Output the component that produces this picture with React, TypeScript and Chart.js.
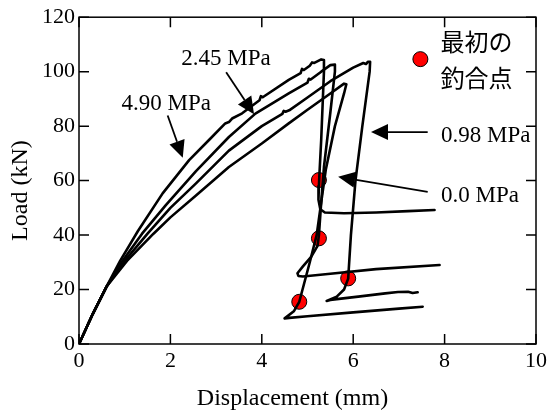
import React, { useEffect, useRef } from 'react';
import { Chart, registerables } from 'chart.js';
Chart.register(...registerables);

const xTicks = [0, 2, 4, 6, 8, 10];
const yTicks = [0, 20, 40, 60, 80, 100, 120];

const curve490 = [[0,0],[0.3,11],[0.6,21],[0.9,30.5],[1.29,41.5],[1.83,55.3],[2.41,67.5],[2.85,75],[3.2,81],[3.28,81.5],[3.35,82.8],[3.57,84.7],[3.95,89.5],[3.98,91],[4.02,90.6],[4.59,97],[4.85,99.5],[4.88,101],[4.92,100.6],[5.05,102.2],[5.1,103.4],[5.15,103.2],[5.3,104.5],[5.36,104.3],[5.36,100],[5.3,75],[5.26,62],[5.25,58],[5.24,53],[5.28,49.5],[5.38,48.3],[5.8,48],[6.5,48.3],[7.2,48.8],[7.78,49.2]];
const curve245 = [[0,0],[0.3,11],[0.6,21],[0.95,30.5],[1.38,40.5],[1.9,51],[2.56,63.5],[3.28,76],[3.86,84.6],[4.59,92],[5.0,96],[5.03,97.4],[5.07,97.1],[5.3,100],[5.5,102.4],[5.6,102.6],[5.6,100],[5.5,85],[5.36,65],[5.3,52],[5.25,40],[5.22,36],[5.08,32],[4.9,28.5],[4.78,26],[4.8,25],[4.9,24.8],[5.5,25.8],[6.5,27.5],[7.89,29]];
const curve098 = [[0,0],[0.3,11],[0.6,21],[1.0,30.5],[1.5,40.5],[2.0,50],[2.56,59],[3.28,71],[4.0,80],[4.45,84.5],[4.48,85.6],[4.52,85.3],[4.6,85.8],[5.0,90.5],[5.5,96.5],[6.0,101.5],[6.22,103.2],[6.28,102.8],[6.32,103.6],[6.37,103.6],[6.36,100],[6.2,80],[6.05,60],[5.95,40],[5.89,24],[5.8,20],[5.64,17.4],[5.42,15.8],[5.5,16.2],[6.11,17.4],[6.7,18.6],[6.98,19.1],[7.2,19.2],[7.3,18.7],[7.41,19.0]];
const curve000 = [[0,0],[0.3,11],[0.6,21],[1.05,30.5],[1.63,40.5],[2.0,46.5],[2.56,54.5],[3.28,65],[4.0,73.6],[4.59,81],[5.0,86],[5.5,92],[5.8,95.6],[5.85,95.4],[5.8,92],[5.6,80],[5.4,64],[5.3,52],[5.2,40],[5.05,30],[4.82,15.5],[4.7,12],[4.5,9.4],[4.6,9.6],[5.0,10.2],[6.0,11.6],[7.0,13],[7.52,13.7]];
const equilibriumPoints = [[5.25,60.2],[5.25,38.8],[5.89,24.1],[4.82,15.5]];

const labels = [
  { text: '2.45 MPa', tx: 2.24, ty: 102.4, from: [3.22, 99.8], to: [3.83, 84.4] },
  { text: '4.90 MPa', tx: 0.93, ty: 85.9, from: [1.94, 83.9], to: [2.27, 68.4] },
  { text: '0.98 MPa', tx: 7.92, ty: 74.2, from: [7.63, 77.8], to: [6.39, 77.8] },
  { text: '0.0 MPa', tx: 7.92, ty: 52.2, from: [7.63, 55.9], to: [5.67, 61.4] },
];
const legendLines = ['最初の', '釣合点'];

const SERIF = '"Liberation Serif", "Times New Roman", serif';
const CJK = '"Noto Sans CJK JP", sans-serif';

const toPts = (arr: number[][]) => arr.map(([x, y]) => ({ x, y }));

const overlay = {
  id: 'overlay',
  afterDraw(chart: any) {
    const { ctx, chartArea: a, scales } = chart;
    const sx = scales.x, sy = scales.y;
    ctx.save();
    ctx.strokeStyle = '#000';
    ctx.lineWidth = 1.5;
    ctx.strokeRect(a.left, a.top, a.right - a.left, a.bottom - a.top);
    const L = 10;
    ctx.beginPath();
    xTicks.forEach(v => {
      const p = sx.getPixelForValue(v);
      ctx.moveTo(p, a.bottom); ctx.lineTo(p, a.bottom - L);
      ctx.moveTo(p, a.top); ctx.lineTo(p, a.top + L);
    });
    yTicks.forEach(v => {
      const p = sy.getPixelForValue(v);
      ctx.moveTo(a.left, p); ctx.lineTo(a.left + L, p);
      ctx.moveTo(a.right, p); ctx.lineTo(a.right - L, p);
    });
    ctx.stroke();

    // annotations
    ctx.fillStyle = '#000';
    ctx.font = '23px ' + SERIF;
    ctx.textBaseline = 'alphabetic';
    ctx.textAlign = 'left';
    labels.forEach(l => {
      ctx.fillText(l.text, sx.getPixelForValue(l.tx), sy.getPixelForValue(l.ty));
      const x1 = sx.getPixelForValue(l.from[0]), y1 = sy.getPixelForValue(l.from[1]);
      const x2 = sx.getPixelForValue(l.to[0]), y2 = sy.getPixelForValue(l.to[1]);
      const ang = Math.atan2(y2 - y1, x2 - x1);
      const hl = 17, hw = 8;
      const bx = x2 - hl * Math.cos(ang), by = y2 - hl * Math.sin(ang);
      ctx.lineWidth = 1.8;
      ctx.beginPath(); ctx.moveTo(x1, y1); ctx.lineTo(bx, by); ctx.stroke();
      ctx.beginPath();
      ctx.moveTo(x2, y2);
      ctx.lineTo(bx + hw * Math.sin(ang), by - hw * Math.cos(ang));
      ctx.lineTo(bx - hw * Math.sin(ang), by + hw * Math.cos(ang));
      ctx.closePath(); ctx.fill();
    });

    // legend
    const lx = sx.getPixelForValue(7.47), ly = sy.getPixelForValue(104.6);
    ctx.beginPath(); ctx.arc(lx, ly, 7.5, 0, Math.PI * 2);
    ctx.fillStyle = '#ff0000'; ctx.fill();
    ctx.lineWidth = 1; ctx.strokeStyle = '#000'; ctx.stroke();
    ctx.fillStyle = '#000';
    ctx.font = '24px ' + CJK;
    ctx.textBaseline = 'middle';
    ctx.fillText(legendLines[0], sx.getPixelForValue(7.91), sy.getPixelForValue(110.8));
    ctx.fillText(legendLines[1], sx.getPixelForValue(7.91), sy.getPixelForValue(97.8));

    // axis titles
    ctx.font = '24px ' + SERIF;
    ctx.textAlign = 'center';
    ctx.textBaseline = 'alphabetic';
    ctx.fillText('Displacement (mm)', (a.left + a.right) / 2 - 15, 405);
    ctx.save();
    ctx.translate(27, (a.top + a.bottom) / 2 + 10);
    ctx.rotate(-Math.PI / 2);
    ctx.fillText('Load (kN)', 0, 0);
    ctx.restore();
    ctx.restore();
  },
};

export default function App() {
  const ref = useRef<HTMLCanvasElement>(null);
  useEffect(() => {
    if (!ref.current) return;
    const lineDs = (label: string, arr: number[][]) => ({
      label, data: toPts(arr), type: 'line' as const, showLine: true,
      borderColor: '#000', borderWidth: 2.6, pointRadius: 0, tension: 0, fill: false,
      borderJoinStyle: 'round' as const, borderCapStyle: 'round' as const,
    });
    const chart = new Chart(ref.current, {
      type: 'scatter',
      data: {
        datasets: [
          lineDs('4.90 MPa', curve490),
          lineDs('2.45 MPa', curve245),
          lineDs('0.98 MPa', curve098),
          lineDs('0.0 MPa', curve000),
          {
            label: '最初の釣合点', data: toPts(equilibriumPoints), type: 'scatter',
            pointRadius: 7.5, backgroundColor: '#ff0000', borderColor: '#000', borderWidth: 1,
          } as any,
        ],
      },
      options: {
        responsive: false,
        animation: false,
        devicePixelRatio: 1,
        layout: { padding: { top: 17, right: 12, left: 0, bottom: 0 } },
        plugins: { legend: { display: false }, tooltip: { enabled: false } },
        scales: {
          x: {
            type: 'linear', min: 0, max: 10,
            afterFit: (s: any) => { s.height = 66; },
            ticks: { stepSize: 2, color: '#000', font: { family: SERIF, size: 22 }, padding: 4 },
            grid: { display: false, drawTicks: false },
            border: { display: false },
          },
          y: {
            type: 'linear', min: 0, max: 120,
            afterFit: (s: any) => { s.width = 79; },
            ticks: { stepSize: 20, color: '#000', font: { family: SERIF, size: 22 }, padding: 4 },
            grid: { display: false, drawTicks: false },
            border: { display: false },
          },
        },
      },
      plugins: [overlay],
    });
    return () => chart.destroy();
  }, []);
  return (
    <div style={{ position: 'fixed', left: 0, top: 0, width: 551, height: 410, background: '#fff' }}>
      <canvas ref={ref} width={551} height={410} style={{ display: 'block', width: 551, height: 410 }} />
    </div>
  );
}
